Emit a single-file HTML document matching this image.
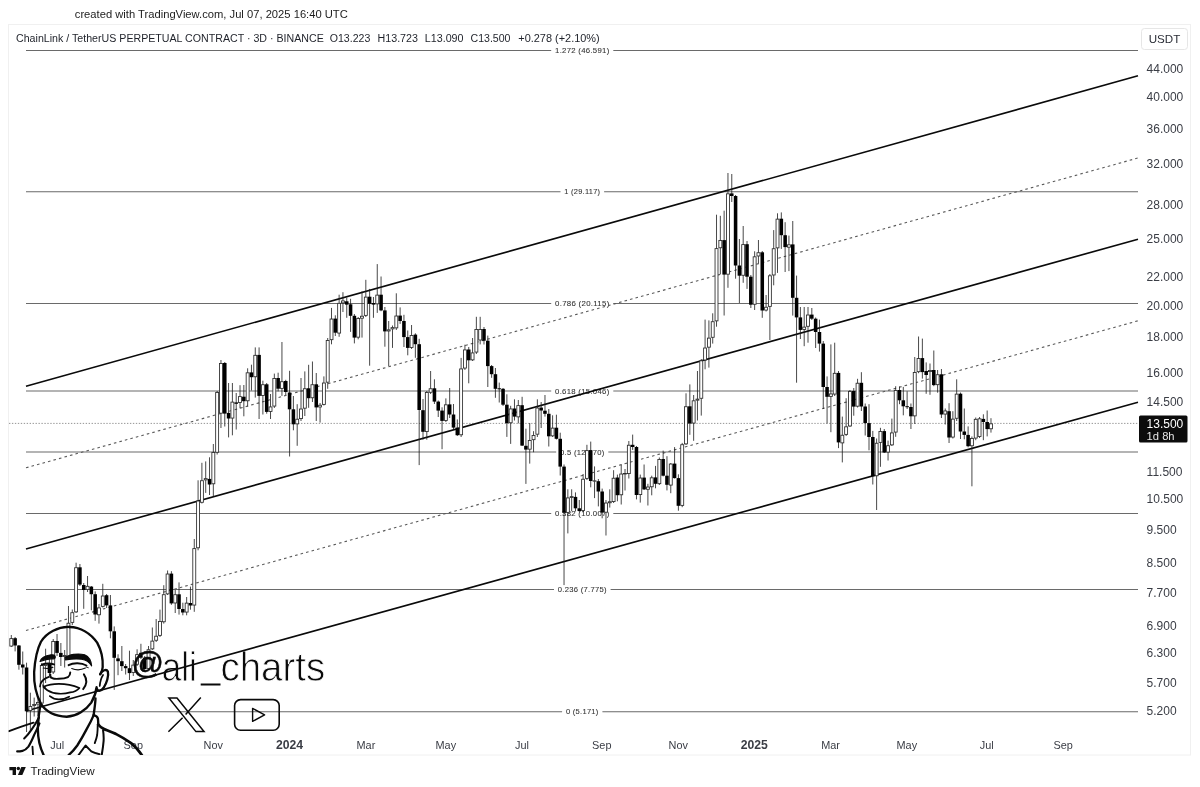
<!DOCTYPE html>
<html><head><meta charset="utf-8"><title>LINKUSDT.P chart</title>
<style>
html,body{margin:0;padding:0;background:#fff;}
body{width:1200px;height:787px;position:relative;overflow:hidden;font-family:"Liberation Sans",sans-serif;}
svg{position:absolute;left:0;top:0;}
svg text{font-family:"Liberation Sans",sans-serif;}
</style></head><body>
<svg width="1200" height="787" viewBox="0 0 1200 787">
<defs>
<clipPath id="fr"><rect x="8.5" y="24.5" width="1182" height="730.5"/></clipPath>
<filter id="thin" x="-5%" y="-20%" width="110%" height="140%"><feMorphology operator="erode" radius="0.45"/></filter>
</defs>
<rect x="0" y="0" width="1200" height="787" fill="#fff"/>
<g opacity="0.999">
<text x="74.8" y="17.7" font-size="11.6" fill="#1c1c1c" textLength="273" lengthAdjust="spacingAndGlyphs">created with TradingView.com, Jul 07, 2025 16:40 UTC</text>
<rect x="8.5" y="24.5" width="1182" height="730.5" fill="#fff" stroke="#f0f0f0" stroke-width="1"/>
<g clip-path="url(#fr)">
<path d="M9 423.4H1138" stroke="#888" stroke-width="0.9" stroke-dasharray="1.35 1.6"/>
<path d="M26 50.5H551.2M613.3 50.5H1138" stroke="#6a6a6a" stroke-width="1.05"/>
<text x="582.3" y="53.2" text-anchor="middle" font-size="7.6" letter-spacing="0.28" fill="#333" stroke="#333" stroke-width="0.08" textLength="54.5" lengthAdjust="spacingAndGlyphs">1.272 (46.591)</text>
<path d="M26 191.7H560.5M604.1 191.7H1138" stroke="#6a6a6a" stroke-width="1.05"/>
<text x="582.3" y="194.4" text-anchor="middle" font-size="7.6" letter-spacing="0.28" fill="#333" stroke="#333" stroke-width="0.08" textLength="36" lengthAdjust="spacingAndGlyphs">1 (29.117)</text>
<path d="M26 303.4H551.2M613.3 303.4H1138" stroke="#6a6a6a" stroke-width="1.05"/>
<text x="582.3" y="306.1" text-anchor="middle" font-size="7.6" letter-spacing="0.28" fill="#333" stroke="#333" stroke-width="0.08" textLength="54.5" lengthAdjust="spacingAndGlyphs">0.786 (20.115)</text>
<path d="M26 391.0H551.2M613.3 391.0H1138" stroke="#6a6a6a" stroke-width="1.05"/>
<text x="582.3" y="393.7" text-anchor="middle" font-size="7.6" letter-spacing="0.28" fill="#333" stroke="#333" stroke-width="0.08" textLength="54.5" lengthAdjust="spacingAndGlyphs">0.618 (15.046)</text>
<path d="M26 451.9H556.2M608.3 451.9H1138" stroke="#6a6a6a" stroke-width="1.05"/>
<text x="582.3" y="454.6" text-anchor="middle" font-size="7.6" letter-spacing="0.28" fill="#333" stroke="#333" stroke-width="0.08" textLength="44.5" lengthAdjust="spacingAndGlyphs">0.5 (12.270)</text>
<path d="M26 513.4H551.2M613.3 513.4H1138" stroke="#6a6a6a" stroke-width="1.05"/>
<text x="582.3" y="516.1" text-anchor="middle" font-size="7.6" letter-spacing="0.28" fill="#333" stroke="#333" stroke-width="0.08" textLength="54.5" lengthAdjust="spacingAndGlyphs">0.382 (10.007)</text>
<path d="M26 589.4H554.0M610.6 589.4H1138" stroke="#6a6a6a" stroke-width="1.05"/>
<text x="582.3" y="592.1" text-anchor="middle" font-size="7.6" letter-spacing="0.28" fill="#333" stroke="#333" stroke-width="0.08" textLength="49" lengthAdjust="spacingAndGlyphs">0.236 (7.775)</text>
<path d="M26 711.7H562.1M602.4 711.7H1138" stroke="#6a6a6a" stroke-width="1.05"/>
<text x="582.3" y="714.4" text-anchor="middle" font-size="7.6" letter-spacing="0.28" fill="#333" stroke="#333" stroke-width="0.08" textLength="32.7" lengthAdjust="spacingAndGlyphs">0 (5.171)</text>
<path d="M26 386.2L1138 75.8" stroke="#0a0a0a" stroke-width="1.65" stroke-linecap="butt"/>
<path d="M26 549L1138 239.2" stroke="#0a0a0a" stroke-width="1.65" stroke-linecap="butt"/>
<path d="M26 711.0L1138 402.2" stroke="#0a0a0a" stroke-width="1.65" stroke-linecap="butt"/>
<path d="M26 467.8L1138 158.0" stroke="#5a5a5a" stroke-width="1.1" stroke-dasharray="2.6 3.1"/>
<path d="M26 630.5L1138 320.8" stroke="#5a5a5a" stroke-width="1.1" stroke-dasharray="2.6 3.1"/>
<g id="candles" shape-rendering="geometricPrecision">
<path d="M11.30 635.0V647.0" stroke="#1a1a1a" stroke-width="0.8"/>
<rect x="9.83" y="638.62" width="2.95" height="7.45" fill="#fff" stroke="#2a2a2a" stroke-width="0.85"/>
<path d="M15.11 637.0V651.4" stroke="#1a1a1a" stroke-width="0.8"/>
<rect x="13.34" y="638.2" width="3.55" height="7.3" fill="#000"/>
<path d="M18.92 645.0V669.7" stroke="#1a1a1a" stroke-width="0.8"/>
<rect x="17.15" y="645.5" width="3.55" height="19.3" fill="#000"/>
<path d="M22.74 651.5V674.5" stroke="#1a1a1a" stroke-width="0.8"/>
<rect x="20.96" y="664.5" width="3.55" height="3.0" fill="#000"/>
<path d="M26.55 662.7V732.0" stroke="#1a1a1a" stroke-width="0.8"/>
<rect x="24.77" y="667.5" width="3.55" height="43.8" fill="#000"/>
<path d="M30.36 692.7V730.0" stroke="#1a1a1a" stroke-width="0.8"/>
<rect x="28.89" y="706.42" width="2.95" height="4.15" fill="#fff" stroke="#2a2a2a" stroke-width="0.85"/>
<path d="M34.17 697.6V716.5" stroke="#1a1a1a" stroke-width="0.8"/>
<rect x="32.70" y="704.42" width="2.95" height="1.15" fill="#fff" stroke="#2a2a2a" stroke-width="0.85"/>
<path d="M37.98 696.0V716.0" stroke="#1a1a1a" stroke-width="0.8"/>
<rect x="36.51" y="702.42" width="2.95" height="1.65" fill="#fff" stroke="#2a2a2a" stroke-width="0.85"/>
<path d="M41.80 663.0V706.0" stroke="#1a1a1a" stroke-width="0.8"/>
<rect x="40.32" y="665.42" width="2.95" height="37.65" fill="#fff" stroke="#2a2a2a" stroke-width="0.85"/>
<path d="M45.61 648.7V683.0" stroke="#1a1a1a" stroke-width="0.8"/>
<rect x="44.13" y="663.82" width="2.95" height="1.75" fill="#fff" stroke="#2a2a2a" stroke-width="0.85"/>
<path d="M49.42 655.0V676.0" stroke="#1a1a1a" stroke-width="0.8"/>
<rect x="47.65" y="663.4" width="3.55" height="9.6" fill="#000"/>
<path d="M53.23 639.0V674.0" stroke="#1a1a1a" stroke-width="0.8"/>
<rect x="51.76" y="641.42" width="2.95" height="30.55" fill="#fff" stroke="#2a2a2a" stroke-width="0.85"/>
<path d="M57.04 634.0V656.0" stroke="#1a1a1a" stroke-width="0.8"/>
<rect x="55.27" y="641.0" width="3.55" height="11.9" fill="#000"/>
<path d="M60.86 643.0V666.0" stroke="#1a1a1a" stroke-width="0.8"/>
<rect x="59.08" y="652.9" width="3.55" height="4.1" fill="#000"/>
<path d="M64.67 650.0V667.5" stroke="#1a1a1a" stroke-width="0.8"/>
<rect x="63.19" y="655.42" width="2.95" height="1.15" fill="#fff" stroke="#2a2a2a" stroke-width="0.85"/>
<path d="M68.48 606.0V660.0" stroke="#1a1a1a" stroke-width="0.8"/>
<rect x="67.00" y="623.22" width="2.95" height="33.35" fill="#fff" stroke="#2a2a2a" stroke-width="0.85"/>
<path d="M72.29 609.5V625.0" stroke="#1a1a1a" stroke-width="0.8"/>
<rect x="70.82" y="612.72" width="2.95" height="9.65" fill="#fff" stroke="#2a2a2a" stroke-width="0.85"/>
<path d="M76.10 562.7V613.0" stroke="#1a1a1a" stroke-width="0.8"/>
<rect x="74.63" y="567.72" width="2.95" height="44.15" fill="#fff" stroke="#2a2a2a" stroke-width="0.85"/>
<path d="M79.92 564.0V586.0" stroke="#1a1a1a" stroke-width="0.8"/>
<rect x="78.14" y="567.3" width="3.55" height="17.3" fill="#000"/>
<path d="M83.73 583.0V608.8" stroke="#1a1a1a" stroke-width="0.8"/>
<rect x="81.95" y="585.0" width="3.55" height="5.0" fill="#000"/>
<path d="M87.54 576.0V592.0" stroke="#1a1a1a" stroke-width="0.8"/>
<rect x="86.06" y="586.32" width="2.95" height="3.25" fill="#fff" stroke="#2a2a2a" stroke-width="0.85"/>
<path d="M91.35 586.0V610.3" stroke="#1a1a1a" stroke-width="0.8"/>
<rect x="89.58" y="586.6" width="3.55" height="7.6" fill="#000"/>
<path d="M95.16 591.4V620.8" stroke="#1a1a1a" stroke-width="0.8"/>
<rect x="93.39" y="594.2" width="3.55" height="20.3" fill="#000"/>
<path d="M98.98 604.0V623.6" stroke="#1a1a1a" stroke-width="0.8"/>
<rect x="97.50" y="607.92" width="2.95" height="6.85" fill="#fff" stroke="#2a2a2a" stroke-width="0.85"/>
<path d="M102.79 583.8V607.5" stroke="#1a1a1a" stroke-width="0.8"/>
<rect x="101.31" y="596.02" width="2.95" height="10.35" fill="#fff" stroke="#2a2a2a" stroke-width="0.85"/>
<path d="M106.60 594.0V608.0" stroke="#1a1a1a" stroke-width="0.8"/>
<rect x="104.82" y="595.2" width="3.55" height="10.2" fill="#000"/>
<path d="M110.41 595.0V638.3" stroke="#1a1a1a" stroke-width="0.8"/>
<rect x="108.64" y="605.4" width="3.55" height="25.9" fill="#000"/>
<path d="M114.22 626.4V689.9" stroke="#1a1a1a" stroke-width="0.8"/>
<rect x="112.45" y="631.3" width="3.55" height="26.5" fill="#000"/>
<path d="M118.04 654.3V675.2" stroke="#1a1a1a" stroke-width="0.8"/>
<rect x="116.26" y="658.4" width="3.55" height="2.8" fill="#000"/>
<path d="M121.85 646.0V671.0" stroke="#1a1a1a" stroke-width="0.8"/>
<rect x="120.07" y="661.2" width="3.55" height="4.9" fill="#000"/>
<path d="M125.66 664.0V674.5" stroke="#1a1a1a" stroke-width="0.8"/>
<rect x="123.88" y="666.1" width="3.55" height="2.1" fill="#000"/>
<path d="M129.47 650.7V680.0" stroke="#1a1a1a" stroke-width="0.8"/>
<rect x="127.70" y="668.2" width="3.55" height="4.9" fill="#000"/>
<path d="M133.28 660.0V676.0" stroke="#1a1a1a" stroke-width="0.8"/>
<rect x="131.81" y="665.12" width="2.95" height="7.45" fill="#fff" stroke="#2a2a2a" stroke-width="0.85"/>
<path d="M137.10 649.3V666.0" stroke="#1a1a1a" stroke-width="0.8"/>
<rect x="135.62" y="654.62" width="2.95" height="9.65" fill="#fff" stroke="#2a2a2a" stroke-width="0.85"/>
<path d="M140.91 643.8V659.0" stroke="#1a1a1a" stroke-width="0.8"/>
<rect x="139.13" y="652.8" width="3.55" height="4.9" fill="#000"/>
<path d="M144.72 656.0V672.0" stroke="#1a1a1a" stroke-width="0.8"/>
<rect x="142.94" y="657.7" width="3.55" height="11.3" fill="#000"/>
<path d="M148.53 646.0V670.0" stroke="#1a1a1a" stroke-width="0.8"/>
<rect x="147.06" y="649.72" width="2.95" height="18.85" fill="#fff" stroke="#2a2a2a" stroke-width="0.85"/>
<path d="M152.34 627.5V650.0" stroke="#1a1a1a" stroke-width="0.8"/>
<rect x="150.87" y="641.12" width="2.95" height="7.75" fill="#fff" stroke="#2a2a2a" stroke-width="0.85"/>
<path d="M156.16 619.0V642.0" stroke="#1a1a1a" stroke-width="0.8"/>
<rect x="154.68" y="636.22" width="2.95" height="4.05" fill="#fff" stroke="#2a2a2a" stroke-width="0.85"/>
<path d="M159.97 609.6V637.0" stroke="#1a1a1a" stroke-width="0.8"/>
<rect x="158.49" y="621.42" width="2.95" height="13.95" fill="#fff" stroke="#2a2a2a" stroke-width="0.85"/>
<path d="M163.78 585.2V623.6" stroke="#1a1a1a" stroke-width="0.8"/>
<rect x="162.31" y="594.72" width="2.95" height="27.05" fill="#fff" stroke="#2a2a2a" stroke-width="0.85"/>
<path d="M167.59 570.5V595.0" stroke="#1a1a1a" stroke-width="0.8"/>
<rect x="166.12" y="574.02" width="2.95" height="19.85" fill="#fff" stroke="#2a2a2a" stroke-width="0.85"/>
<path d="M171.40 571.2V604.8" stroke="#1a1a1a" stroke-width="0.8"/>
<rect x="169.63" y="573.6" width="3.55" height="29.8" fill="#000"/>
<path d="M175.22 590.0V613.0" stroke="#1a1a1a" stroke-width="0.8"/>
<rect x="173.74" y="594.72" width="2.95" height="8.25" fill="#fff" stroke="#2a2a2a" stroke-width="0.85"/>
<path d="M179.03 582.4V614.6" stroke="#1a1a1a" stroke-width="0.8"/>
<rect x="177.25" y="594.3" width="3.55" height="14.7" fill="#000"/>
<path d="M182.84 602.7V615.3" stroke="#1a1a1a" stroke-width="0.8"/>
<rect x="181.06" y="609.0" width="3.55" height="3.5" fill="#000"/>
<path d="M186.65 597.0V615.3" stroke="#1a1a1a" stroke-width="0.8"/>
<rect x="185.18" y="603.12" width="2.95" height="8.95" fill="#fff" stroke="#2a2a2a" stroke-width="0.85"/>
<path d="M190.46 586.6V609.7" stroke="#1a1a1a" stroke-width="0.8"/>
<rect x="188.69" y="603.0" width="3.55" height="2.5" fill="#000"/>
<path d="M194.28 539.0V611.8" stroke="#1a1a1a" stroke-width="0.8"/>
<rect x="192.80" y="548.62" width="2.95" height="56.45" fill="#fff" stroke="#2a2a2a" stroke-width="0.85"/>
<path d="M198.09 480.3V550.3" stroke="#1a1a1a" stroke-width="0.8"/>
<rect x="196.61" y="501.03" width="2.95" height="46.75" fill="#fff" stroke="#2a2a2a" stroke-width="0.85"/>
<path d="M201.90 462.8V503.5" stroke="#1a1a1a" stroke-width="0.8"/>
<rect x="200.43" y="480.73" width="2.95" height="21.55" fill="#fff" stroke="#2a2a2a" stroke-width="0.85"/>
<path d="M205.71 461.4V492.9" stroke="#1a1a1a" stroke-width="0.8"/>
<rect x="204.24" y="478.62" width="2.95" height="1.25" fill="#fff" stroke="#2a2a2a" stroke-width="0.85"/>
<path d="M209.52 457.3V495.0" stroke="#1a1a1a" stroke-width="0.8"/>
<rect x="207.75" y="478.9" width="3.55" height="5.6" fill="#000"/>
<path d="M213.34 444.0V496.4" stroke="#1a1a1a" stroke-width="0.8"/>
<rect x="211.86" y="452.43" width="2.95" height="31.35" fill="#fff" stroke="#2a2a2a" stroke-width="0.85"/>
<path d="M217.15 391.0V454.5" stroke="#1a1a1a" stroke-width="0.8"/>
<rect x="215.67" y="392.43" width="2.95" height="59.85" fill="#fff" stroke="#2a2a2a" stroke-width="0.85"/>
<path d="M220.96 360.0V428.0" stroke="#1a1a1a" stroke-width="0.8"/>
<rect x="219.49" y="363.43" width="2.95" height="49.75" fill="#fff" stroke="#2a2a2a" stroke-width="0.85"/>
<path d="M224.77 362.0V426.5" stroke="#1a1a1a" stroke-width="0.8"/>
<rect x="223.00" y="363.0" width="3.55" height="50.6" fill="#000"/>
<path d="M228.58 383.0V437.4" stroke="#1a1a1a" stroke-width="0.8"/>
<rect x="226.81" y="412.9" width="3.55" height="5.6" fill="#000"/>
<path d="M232.40 383.0V435.3" stroke="#1a1a1a" stroke-width="0.8"/>
<rect x="230.92" y="402.12" width="2.95" height="15.95" fill="#fff" stroke="#2a2a2a" stroke-width="0.85"/>
<path d="M236.21 393.0V429.5" stroke="#1a1a1a" stroke-width="0.8"/>
<rect x="234.43" y="402.4" width="3.55" height="1.4" fill="#000"/>
<path d="M240.02 385.2V408.3" stroke="#1a1a1a" stroke-width="0.8"/>
<rect x="238.55" y="396.62" width="2.95" height="5.95" fill="#fff" stroke="#2a2a2a" stroke-width="0.85"/>
<path d="M243.83 385.0V416.3" stroke="#1a1a1a" stroke-width="0.8"/>
<rect x="242.06" y="396.7" width="3.55" height="4.5" fill="#000"/>
<path d="M247.64 368.3V406.5" stroke="#1a1a1a" stroke-width="0.8"/>
<rect x="246.17" y="372.82" width="2.95" height="27.95" fill="#fff" stroke="#2a2a2a" stroke-width="0.85"/>
<path d="M251.46 364.7V390.5" stroke="#1a1a1a" stroke-width="0.8"/>
<rect x="249.68" y="372.4" width="3.55" height="4.8" fill="#000"/>
<path d="M255.27 347.4V397.6" stroke="#1a1a1a" stroke-width="0.8"/>
<rect x="253.79" y="355.32" width="2.95" height="21.45" fill="#fff" stroke="#2a2a2a" stroke-width="0.85"/>
<path d="M259.08 347.4V419.0" stroke="#1a1a1a" stroke-width="0.8"/>
<rect x="257.31" y="354.9" width="3.55" height="41.0" fill="#000"/>
<path d="M262.89 380.7V414.5" stroke="#1a1a1a" stroke-width="0.8"/>
<rect x="261.42" y="384.73" width="2.95" height="10.75" fill="#fff" stroke="#2a2a2a" stroke-width="0.85"/>
<path d="M266.70 383.0V413.7" stroke="#1a1a1a" stroke-width="0.8"/>
<rect x="264.93" y="384.3" width="3.55" height="27.6" fill="#000"/>
<path d="M270.52 394.0V419.0" stroke="#1a1a1a" stroke-width="0.8"/>
<rect x="269.04" y="406.93" width="2.95" height="4.55" fill="#fff" stroke="#2a2a2a" stroke-width="0.85"/>
<path d="M274.33 373.6V408.0" stroke="#1a1a1a" stroke-width="0.8"/>
<rect x="272.85" y="378.43" width="2.95" height="27.65" fill="#fff" stroke="#2a2a2a" stroke-width="0.85"/>
<path d="M278.14 372.7V391.4" stroke="#1a1a1a" stroke-width="0.8"/>
<rect x="276.37" y="378.0" width="3.55" height="10.7" fill="#000"/>
<path d="M281.95 342.0V395.9" stroke="#1a1a1a" stroke-width="0.8"/>
<rect x="280.48" y="381.73" width="2.95" height="6.65" fill="#fff" stroke="#2a2a2a" stroke-width="0.85"/>
<path d="M285.76 379.8V395.0" stroke="#1a1a1a" stroke-width="0.8"/>
<rect x="283.99" y="381.0" width="3.55" height="11.0" fill="#000"/>
<path d="M289.58 370.8V456.5" stroke="#1a1a1a" stroke-width="0.8"/>
<rect x="287.80" y="392.5" width="3.55" height="16.8" fill="#000"/>
<path d="M293.39 396.0V430.3" stroke="#1a1a1a" stroke-width="0.8"/>
<rect x="291.61" y="409.3" width="3.55" height="15.0" fill="#000"/>
<path d="M297.20 404.2V445.8" stroke="#1a1a1a" stroke-width="0.8"/>
<rect x="295.73" y="419.23" width="2.95" height="4.65" fill="#fff" stroke="#2a2a2a" stroke-width="0.85"/>
<path d="M301.01 378.0V421.0" stroke="#1a1a1a" stroke-width="0.8"/>
<rect x="299.54" y="409.03" width="2.95" height="9.55" fill="#fff" stroke="#2a2a2a" stroke-width="0.85"/>
<path d="M304.82 371.4V416.0" stroke="#1a1a1a" stroke-width="0.8"/>
<rect x="303.35" y="388.73" width="2.95" height="19.45" fill="#fff" stroke="#2a2a2a" stroke-width="0.85"/>
<path d="M308.64 364.8V407.8" stroke="#1a1a1a" stroke-width="0.8"/>
<rect x="306.86" y="388.3" width="3.55" height="9.9" fill="#000"/>
<path d="M312.45 361.5V402.0" stroke="#1a1a1a" stroke-width="0.8"/>
<rect x="310.97" y="384.73" width="2.95" height="13.05" fill="#fff" stroke="#2a2a2a" stroke-width="0.85"/>
<path d="M316.26 373.0V421.0" stroke="#1a1a1a" stroke-width="0.8"/>
<rect x="314.49" y="384.3" width="3.55" height="23.1" fill="#000"/>
<path d="M320.07 403.0V422.6" stroke="#1a1a1a" stroke-width="0.8"/>
<rect x="318.60" y="405.23" width="2.95" height="1.75" fill="#fff" stroke="#2a2a2a" stroke-width="0.85"/>
<path d="M323.88 376.4V405.5" stroke="#1a1a1a" stroke-width="0.8"/>
<rect x="322.41" y="383.03" width="2.95" height="21.35" fill="#fff" stroke="#2a2a2a" stroke-width="0.85"/>
<path d="M327.70 338.0V388.8" stroke="#1a1a1a" stroke-width="0.8"/>
<rect x="326.22" y="340.53" width="2.95" height="41.65" fill="#fff" stroke="#2a2a2a" stroke-width="0.85"/>
<path d="M331.51 307.9V344.3" stroke="#1a1a1a" stroke-width="0.8"/>
<rect x="330.03" y="319.03" width="2.95" height="20.65" fill="#fff" stroke="#2a2a2a" stroke-width="0.85"/>
<path d="M335.32 315.3V336.0" stroke="#1a1a1a" stroke-width="0.8"/>
<rect x="333.55" y="318.6" width="3.55" height="14.1" fill="#000"/>
<path d="M339.13 294.7V336.8" stroke="#1a1a1a" stroke-width="0.8"/>
<rect x="337.66" y="303.32" width="2.95" height="29.75" fill="#fff" stroke="#2a2a2a" stroke-width="0.85"/>
<path d="M342.94 292.2V312.0" stroke="#1a1a1a" stroke-width="0.8"/>
<rect x="341.47" y="300.93" width="2.95" height="1.95" fill="#fff" stroke="#2a2a2a" stroke-width="0.85"/>
<path d="M346.76 297.6V317.8" stroke="#1a1a1a" stroke-width="0.8"/>
<rect x="344.98" y="301.3" width="3.55" height="3.3" fill="#000"/>
<path d="M350.57 298.8V331.9" stroke="#1a1a1a" stroke-width="0.8"/>
<rect x="348.79" y="304.3" width="3.55" height="11.5" fill="#000"/>
<path d="M354.38 314.0V343.4" stroke="#1a1a1a" stroke-width="0.8"/>
<rect x="352.61" y="315.8" width="3.55" height="21.8" fill="#000"/>
<path d="M358.19 317.0V339.3" stroke="#1a1a1a" stroke-width="0.8"/>
<rect x="356.72" y="318.53" width="2.95" height="18.65" fill="#fff" stroke="#2a2a2a" stroke-width="0.85"/>
<path d="M362.00 291.4V337.6" stroke="#1a1a1a" stroke-width="0.8"/>
<rect x="360.53" y="316.23" width="2.95" height="1.95" fill="#fff" stroke="#2a2a2a" stroke-width="0.85"/>
<path d="M365.82 279.8V317.0" stroke="#1a1a1a" stroke-width="0.8"/>
<rect x="364.34" y="297.12" width="2.95" height="18.25" fill="#fff" stroke="#2a2a2a" stroke-width="0.85"/>
<path d="M369.63 288.9V365.7" stroke="#1a1a1a" stroke-width="0.8"/>
<rect x="367.85" y="296.7" width="3.55" height="7.1" fill="#000"/>
<path d="M373.44 297.0V317.8" stroke="#1a1a1a" stroke-width="0.8"/>
<rect x="371.67" y="303.0" width="3.55" height="1.6" fill="#000"/>
<path d="M377.25 264.1V312.9" stroke="#1a1a1a" stroke-width="0.8"/>
<rect x="375.78" y="295.12" width="2.95" height="8.75" fill="#fff" stroke="#2a2a2a" stroke-width="0.85"/>
<path d="M381.06 276.5V311.2" stroke="#1a1a1a" stroke-width="0.8"/>
<rect x="379.29" y="294.7" width="3.55" height="15.7" fill="#000"/>
<path d="M384.88 307.0V346.7" stroke="#1a1a1a" stroke-width="0.8"/>
<rect x="383.10" y="310.4" width="3.55" height="21.0" fill="#000"/>
<path d="M388.69 321.0V366.0" stroke="#1a1a1a" stroke-width="0.8"/>
<rect x="387.21" y="329.82" width="2.95" height="1.15" fill="#fff" stroke="#2a2a2a" stroke-width="0.85"/>
<path d="M392.50 325.5V347.9" stroke="#1a1a1a" stroke-width="0.8"/>
<rect x="391.03" y="327.62" width="2.95" height="1.25" fill="#fff" stroke="#2a2a2a" stroke-width="0.85"/>
<path d="M396.31 293.3V330.0" stroke="#1a1a1a" stroke-width="0.8"/>
<rect x="394.84" y="316.03" width="2.95" height="11.85" fill="#fff" stroke="#2a2a2a" stroke-width="0.85"/>
<path d="M400.12 307.4V323.9" stroke="#1a1a1a" stroke-width="0.8"/>
<rect x="398.35" y="315.6" width="3.55" height="5.4" fill="#000"/>
<path d="M403.94 314.8V347.0" stroke="#1a1a1a" stroke-width="0.8"/>
<rect x="402.16" y="321.0" width="3.55" height="16.1" fill="#000"/>
<path d="M407.75 330.5V355.3" stroke="#1a1a1a" stroke-width="0.8"/>
<rect x="405.97" y="337.1" width="3.55" height="10.8" fill="#000"/>
<path d="M411.56 325.0V349.0" stroke="#1a1a1a" stroke-width="0.8"/>
<rect x="410.09" y="335.43" width="2.95" height="12.05" fill="#fff" stroke="#2a2a2a" stroke-width="0.85"/>
<path d="M415.37 333.3V357.8" stroke="#1a1a1a" stroke-width="0.8"/>
<rect x="413.60" y="334.6" width="3.55" height="9.6" fill="#000"/>
<path d="M419.18 338.8V465.1" stroke="#1a1a1a" stroke-width="0.8"/>
<rect x="417.41" y="344.2" width="3.55" height="65.8" fill="#000"/>
<path d="M423.00 399.0V439.7" stroke="#1a1a1a" stroke-width="0.8"/>
<rect x="421.22" y="410.2" width="3.55" height="21.6" fill="#000"/>
<path d="M426.81 391.0V439.7" stroke="#1a1a1a" stroke-width="0.8"/>
<rect x="425.33" y="392.43" width="2.95" height="39.15" fill="#fff" stroke="#2a2a2a" stroke-width="0.85"/>
<path d="M430.62 371.0V394.0" stroke="#1a1a1a" stroke-width="0.8"/>
<rect x="429.15" y="388.73" width="2.95" height="3.55" fill="#fff" stroke="#2a2a2a" stroke-width="0.85"/>
<path d="M434.43 379.3V404.0" stroke="#1a1a1a" stroke-width="0.8"/>
<rect x="432.66" y="388.3" width="3.55" height="13.3" fill="#000"/>
<path d="M438.24 400.5V417.0" stroke="#1a1a1a" stroke-width="0.8"/>
<rect x="436.47" y="401.6" width="3.55" height="9.0" fill="#000"/>
<path d="M442.06 407.3V449.2" stroke="#1a1a1a" stroke-width="0.8"/>
<rect x="440.28" y="410.6" width="3.55" height="10.3" fill="#000"/>
<path d="M445.87 398.4V422.0" stroke="#1a1a1a" stroke-width="0.8"/>
<rect x="444.39" y="404.82" width="2.95" height="15.65" fill="#fff" stroke="#2a2a2a" stroke-width="0.85"/>
<path d="M449.68 388.0V418.0" stroke="#1a1a1a" stroke-width="0.8"/>
<rect x="447.91" y="404.4" width="3.55" height="10.1" fill="#000"/>
<path d="M453.49 404.0V429.0" stroke="#1a1a1a" stroke-width="0.8"/>
<rect x="451.72" y="414.5" width="3.55" height="13.1" fill="#000"/>
<path d="M457.30 419.4V436.0" stroke="#1a1a1a" stroke-width="0.8"/>
<rect x="455.53" y="427.6" width="3.55" height="7.6" fill="#000"/>
<path d="M461.12 357.9V437.0" stroke="#1a1a1a" stroke-width="0.8"/>
<rect x="459.64" y="368.93" width="2.95" height="65.85" fill="#fff" stroke="#2a2a2a" stroke-width="0.85"/>
<path d="M464.93 344.7V370.0" stroke="#1a1a1a" stroke-width="0.8"/>
<rect x="463.45" y="349.93" width="2.95" height="18.15" fill="#fff" stroke="#2a2a2a" stroke-width="0.85"/>
<path d="M468.74 347.0V383.3" stroke="#1a1a1a" stroke-width="0.8"/>
<rect x="466.97" y="349.5" width="3.55" height="10.8" fill="#000"/>
<path d="M472.55 338.0V361.0" stroke="#1a1a1a" stroke-width="0.8"/>
<rect x="471.08" y="352.93" width="2.95" height="6.95" fill="#fff" stroke="#2a2a2a" stroke-width="0.85"/>
<path d="M476.36 316.8V354.0" stroke="#1a1a1a" stroke-width="0.8"/>
<rect x="474.89" y="329.43" width="2.95" height="22.65" fill="#fff" stroke="#2a2a2a" stroke-width="0.85"/>
<path d="M480.18 316.8V344.4" stroke="#1a1a1a" stroke-width="0.8"/>
<rect x="478.70" y="329.43" width="2.95" height="10.55" fill="#fff" stroke="#2a2a2a" stroke-width="0.85"/>
<path d="M483.99 327.0V344.5" stroke="#1a1a1a" stroke-width="0.8"/>
<rect x="482.21" y="329.0" width="3.55" height="11.7" fill="#000"/>
<path d="M487.80 335.6V387.0" stroke="#1a1a1a" stroke-width="0.8"/>
<rect x="486.03" y="340.7" width="3.55" height="25.4" fill="#000"/>
<path d="M491.61 365.0V377.8" stroke="#1a1a1a" stroke-width="0.8"/>
<rect x="489.84" y="366.1" width="3.55" height="8.1" fill="#000"/>
<path d="M495.42 368.0V397.8" stroke="#1a1a1a" stroke-width="0.8"/>
<rect x="493.65" y="374.2" width="3.55" height="14.6" fill="#000"/>
<path d="M499.24 382.6V402.5" stroke="#1a1a1a" stroke-width="0.8"/>
<rect x="497.46" y="388.3" width="3.55" height="1.0" fill="#000"/>
<path d="M503.05 388.0V406.0" stroke="#1a1a1a" stroke-width="0.8"/>
<rect x="501.27" y="388.8" width="3.55" height="15.9" fill="#000"/>
<path d="M506.86 394.3V436.9" stroke="#1a1a1a" stroke-width="0.8"/>
<rect x="505.09" y="404.7" width="3.55" height="18.5" fill="#000"/>
<path d="M510.67 405.8V443.9" stroke="#1a1a1a" stroke-width="0.8"/>
<rect x="509.20" y="408.93" width="2.95" height="13.85" fill="#fff" stroke="#2a2a2a" stroke-width="0.85"/>
<path d="M514.48 399.3V420.5" stroke="#1a1a1a" stroke-width="0.8"/>
<rect x="512.71" y="408.5" width="3.55" height="8.1" fill="#000"/>
<path d="M518.30 400.0V423.4" stroke="#1a1a1a" stroke-width="0.8"/>
<rect x="516.82" y="405.62" width="2.95" height="11.25" fill="#fff" stroke="#2a2a2a" stroke-width="0.85"/>
<path d="M522.11 396.8V446.0" stroke="#1a1a1a" stroke-width="0.8"/>
<rect x="520.33" y="405.2" width="3.55" height="40.4" fill="#000"/>
<path d="M525.92 428.7V483.9" stroke="#1a1a1a" stroke-width="0.8"/>
<rect x="524.14" y="445.8" width="3.55" height="3.8" fill="#000"/>
<path d="M529.73 423.0V463.6" stroke="#1a1a1a" stroke-width="0.8"/>
<rect x="528.26" y="440.53" width="2.95" height="8.65" fill="#fff" stroke="#2a2a2a" stroke-width="0.85"/>
<path d="M533.54 431.2V452.2" stroke="#1a1a1a" stroke-width="0.8"/>
<rect x="532.07" y="435.43" width="2.95" height="4.25" fill="#fff" stroke="#2a2a2a" stroke-width="0.85"/>
<path d="M537.36 399.3V437.0" stroke="#1a1a1a" stroke-width="0.8"/>
<rect x="535.88" y="408.03" width="2.95" height="26.15" fill="#fff" stroke="#2a2a2a" stroke-width="0.85"/>
<path d="M541.17 402.0V428.0" stroke="#1a1a1a" stroke-width="0.8"/>
<rect x="539.39" y="407.6" width="3.55" height="2.9" fill="#000"/>
<path d="M544.98 395.0V416.6" stroke="#1a1a1a" stroke-width="0.8"/>
<rect x="543.20" y="410.7" width="3.55" height="3.1" fill="#000"/>
<path d="M548.79 409.0V446.5" stroke="#1a1a1a" stroke-width="0.8"/>
<rect x="547.02" y="413.8" width="3.55" height="22.5" fill="#000"/>
<path d="M552.60 415.3V437.0" stroke="#1a1a1a" stroke-width="0.8"/>
<rect x="551.13" y="428.12" width="2.95" height="7.75" fill="#fff" stroke="#2a2a2a" stroke-width="0.85"/>
<path d="M556.42 414.7V439.5" stroke="#1a1a1a" stroke-width="0.8"/>
<rect x="554.64" y="427.7" width="3.55" height="11.1" fill="#000"/>
<path d="M560.23 432.7V475.5" stroke="#1a1a1a" stroke-width="0.8"/>
<rect x="558.45" y="438.8" width="3.55" height="27.8" fill="#000"/>
<path d="M564.04 464.5V585.1" stroke="#1a1a1a" stroke-width="0.8"/>
<rect x="562.26" y="466.6" width="3.55" height="46.2" fill="#000"/>
<path d="M567.85 489.3V533.4" stroke="#1a1a1a" stroke-width="0.8"/>
<rect x="566.38" y="497.93" width="2.95" height="14.45" fill="#fff" stroke="#2a2a2a" stroke-width="0.85"/>
<path d="M571.66 489.3V511.0" stroke="#1a1a1a" stroke-width="0.8"/>
<rect x="570.19" y="496.62" width="2.95" height="0.95" fill="#fff" stroke="#2a2a2a" stroke-width="0.85"/>
<path d="M575.48 492.4V511.5" stroke="#1a1a1a" stroke-width="0.8"/>
<rect x="573.70" y="496.9" width="3.55" height="11.4" fill="#000"/>
<path d="M579.29 500.0V512.0" stroke="#1a1a1a" stroke-width="0.8"/>
<rect x="577.51" y="508.3" width="3.55" height="2.7" fill="#000"/>
<path d="M583.10 474.0V512.0" stroke="#1a1a1a" stroke-width="0.8"/>
<rect x="581.62" y="479.23" width="2.95" height="31.35" fill="#fff" stroke="#2a2a2a" stroke-width="0.85"/>
<path d="M586.91 444.8V480.0" stroke="#1a1a1a" stroke-width="0.8"/>
<rect x="585.44" y="450.62" width="2.95" height="27.75" fill="#fff" stroke="#2a2a2a" stroke-width="0.85"/>
<path d="M590.72 441.6V487.3" stroke="#1a1a1a" stroke-width="0.8"/>
<rect x="588.95" y="450.2" width="3.55" height="30.8" fill="#000"/>
<path d="M594.54 466.4V498.1" stroke="#1a1a1a" stroke-width="0.8"/>
<rect x="593.06" y="480.82" width="2.95" height="0.35" fill="#fff" stroke="#2a2a2a" stroke-width="0.85"/>
<path d="M598.35 479.0V506.4" stroke="#1a1a1a" stroke-width="0.8"/>
<rect x="596.57" y="481.2" width="3.55" height="10.3" fill="#000"/>
<path d="M602.16 488.6V518.3" stroke="#1a1a1a" stroke-width="0.8"/>
<rect x="600.38" y="491.5" width="3.55" height="21.1" fill="#000"/>
<path d="M605.97 500.0V535.5" stroke="#1a1a1a" stroke-width="0.8"/>
<rect x="604.50" y="503.03" width="2.95" height="9.15" fill="#fff" stroke="#2a2a2a" stroke-width="0.85"/>
<path d="M609.78 489.3V507.6" stroke="#1a1a1a" stroke-width="0.8"/>
<rect x="608.31" y="501.73" width="2.95" height="1.05" fill="#fff" stroke="#2a2a2a" stroke-width="0.85"/>
<path d="M613.60 470.2V503.0" stroke="#1a1a1a" stroke-width="0.8"/>
<rect x="612.12" y="478.23" width="2.95" height="23.35" fill="#fff" stroke="#2a2a2a" stroke-width="0.85"/>
<path d="M617.41 474.6V501.3" stroke="#1a1a1a" stroke-width="0.8"/>
<rect x="615.63" y="477.5" width="3.55" height="17.7" fill="#000"/>
<path d="M621.22 464.5V504.5" stroke="#1a1a1a" stroke-width="0.8"/>
<rect x="619.74" y="474.03" width="2.95" height="20.75" fill="#fff" stroke="#2a2a2a" stroke-width="0.85"/>
<path d="M625.03 469.0V490.5" stroke="#1a1a1a" stroke-width="0.8"/>
<rect x="623.56" y="473.43" width="2.95" height="0.55" fill="#fff" stroke="#2a2a2a" stroke-width="0.85"/>
<path d="M628.84 441.0V478.5" stroke="#1a1a1a" stroke-width="0.8"/>
<rect x="627.37" y="445.23" width="2.95" height="28.35" fill="#fff" stroke="#2a2a2a" stroke-width="0.85"/>
<path d="M632.66 434.6V449.9" stroke="#1a1a1a" stroke-width="0.8"/>
<rect x="630.88" y="444.8" width="3.55" height="2.2" fill="#000"/>
<path d="M636.47 446.0V499.4" stroke="#1a1a1a" stroke-width="0.8"/>
<rect x="634.69" y="447.0" width="3.55" height="48.0" fill="#000"/>
<path d="M640.28 474.6V502.6" stroke="#1a1a1a" stroke-width="0.8"/>
<rect x="638.80" y="478.03" width="2.95" height="16.55" fill="#fff" stroke="#2a2a2a" stroke-width="0.85"/>
<path d="M644.09 464.5V490.0" stroke="#1a1a1a" stroke-width="0.8"/>
<rect x="642.32" y="477.6" width="3.55" height="11.8" fill="#000"/>
<path d="M647.90 483.8V505.5" stroke="#1a1a1a" stroke-width="0.8"/>
<rect x="646.43" y="487.03" width="2.95" height="2.25" fill="#fff" stroke="#2a2a2a" stroke-width="0.85"/>
<path d="M651.72 475.7V495.3" stroke="#1a1a1a" stroke-width="0.8"/>
<rect x="650.24" y="477.82" width="2.95" height="8.95" fill="#fff" stroke="#2a2a2a" stroke-width="0.85"/>
<path d="M655.53 465.9V488.3" stroke="#1a1a1a" stroke-width="0.8"/>
<rect x="653.75" y="477.4" width="3.55" height="6.4" fill="#000"/>
<path d="M659.34 457.5V485.0" stroke="#1a1a1a" stroke-width="0.8"/>
<rect x="657.86" y="459.43" width="2.95" height="24.25" fill="#fff" stroke="#2a2a2a" stroke-width="0.85"/>
<path d="M663.15 450.6V476.4" stroke="#1a1a1a" stroke-width="0.8"/>
<rect x="661.38" y="459.0" width="3.55" height="16.7" fill="#000"/>
<path d="M666.96 456.2V490.4" stroke="#1a1a1a" stroke-width="0.8"/>
<rect x="665.19" y="475.7" width="3.55" height="9.1" fill="#000"/>
<path d="M670.78 463.0V493.2" stroke="#1a1a1a" stroke-width="0.8"/>
<rect x="669.30" y="464.03" width="2.95" height="21.05" fill="#fff" stroke="#2a2a2a" stroke-width="0.85"/>
<path d="M674.59 447.1V478.5" stroke="#1a1a1a" stroke-width="0.8"/>
<rect x="672.81" y="463.6" width="3.55" height="14.5" fill="#000"/>
<path d="M678.40 474.3V510.7" stroke="#1a1a1a" stroke-width="0.8"/>
<rect x="676.62" y="478.1" width="3.55" height="27.7" fill="#000"/>
<path d="M682.21 442.9V507.2" stroke="#1a1a1a" stroke-width="0.8"/>
<rect x="680.74" y="444.73" width="2.95" height="60.65" fill="#fff" stroke="#2a2a2a" stroke-width="0.85"/>
<path d="M686.02 393.3V445.0" stroke="#1a1a1a" stroke-width="0.8"/>
<rect x="684.55" y="406.73" width="2.95" height="37.15" fill="#fff" stroke="#2a2a2a" stroke-width="0.85"/>
<path d="M689.84 384.4V434.8" stroke="#1a1a1a" stroke-width="0.8"/>
<rect x="688.06" y="406.3" width="3.55" height="17.2" fill="#000"/>
<path d="M693.65 395.0V440.8" stroke="#1a1a1a" stroke-width="0.8"/>
<rect x="692.17" y="400.82" width="2.95" height="22.25" fill="#fff" stroke="#2a2a2a" stroke-width="0.85"/>
<path d="M697.46 371.0V420.5" stroke="#1a1a1a" stroke-width="0.8"/>
<rect x="695.98" y="399.12" width="2.95" height="1.05" fill="#fff" stroke="#2a2a2a" stroke-width="0.85"/>
<path d="M701.27 359.0V415.6" stroke="#1a1a1a" stroke-width="0.8"/>
<rect x="699.80" y="360.82" width="2.95" height="37.45" fill="#fff" stroke="#2a2a2a" stroke-width="0.85"/>
<path d="M705.08 319.6V369.3" stroke="#1a1a1a" stroke-width="0.8"/>
<rect x="703.61" y="348.03" width="2.95" height="11.95" fill="#fff" stroke="#2a2a2a" stroke-width="0.85"/>
<path d="M708.90 320.4V367.6" stroke="#1a1a1a" stroke-width="0.8"/>
<rect x="707.42" y="338.12" width="2.95" height="9.05" fill="#fff" stroke="#2a2a2a" stroke-width="0.85"/>
<path d="M712.71 313.3V343.6" stroke="#1a1a1a" stroke-width="0.8"/>
<rect x="711.23" y="321.73" width="2.95" height="15.55" fill="#fff" stroke="#2a2a2a" stroke-width="0.85"/>
<path d="M716.52 214.7V326.7" stroke="#1a1a1a" stroke-width="0.8"/>
<rect x="715.04" y="248.62" width="2.95" height="72.25" fill="#fff" stroke="#2a2a2a" stroke-width="0.85"/>
<path d="M720.33 215.8V274.0" stroke="#1a1a1a" stroke-width="0.8"/>
<rect x="718.86" y="240.53" width="2.95" height="7.25" fill="#fff" stroke="#2a2a2a" stroke-width="0.85"/>
<path d="M724.14 210.7V315.5" stroke="#1a1a1a" stroke-width="0.8"/>
<rect x="722.37" y="240.1" width="3.55" height="34.5" fill="#000"/>
<path d="M727.96 173.0V287.8" stroke="#1a1a1a" stroke-width="0.8"/>
<rect x="726.48" y="193.83" width="2.95" height="80.35" fill="#fff" stroke="#2a2a2a" stroke-width="0.85"/>
<path d="M731.77 174.0V202.0" stroke="#1a1a1a" stroke-width="0.8"/>
<rect x="729.99" y="193.4" width="3.55" height="2.6" fill="#000"/>
<path d="M735.58 195.0V278.7" stroke="#1a1a1a" stroke-width="0.8"/>
<rect x="733.80" y="196.0" width="3.55" height="69.5" fill="#000"/>
<path d="M739.39 239.0V303.0" stroke="#1a1a1a" stroke-width="0.8"/>
<rect x="737.62" y="265.5" width="3.55" height="10.2" fill="#000"/>
<path d="M743.20 226.0V282.8" stroke="#1a1a1a" stroke-width="0.8"/>
<rect x="741.73" y="244.62" width="2.95" height="30.65" fill="#fff" stroke="#2a2a2a" stroke-width="0.85"/>
<path d="M747.02 241.0V288.9" stroke="#1a1a1a" stroke-width="0.8"/>
<rect x="745.24" y="244.2" width="3.55" height="32.5" fill="#000"/>
<path d="M750.83 275.0V308.0" stroke="#1a1a1a" stroke-width="0.8"/>
<rect x="749.05" y="276.7" width="3.55" height="28.0" fill="#000"/>
<path d="M754.64 251.3V310.0" stroke="#1a1a1a" stroke-width="0.8"/>
<rect x="753.16" y="256.82" width="2.95" height="47.45" fill="#fff" stroke="#2a2a2a" stroke-width="0.85"/>
<path d="M758.45 240.0V263.5" stroke="#1a1a1a" stroke-width="0.8"/>
<rect x="756.98" y="252.73" width="2.95" height="3.25" fill="#fff" stroke="#2a2a2a" stroke-width="0.85"/>
<path d="M762.26 251.0V317.8" stroke="#1a1a1a" stroke-width="0.8"/>
<rect x="760.49" y="252.3" width="3.55" height="58.2" fill="#000"/>
<path d="M766.08 295.0V311.5" stroke="#1a1a1a" stroke-width="0.8"/>
<rect x="764.60" y="307.23" width="2.95" height="2.85" fill="#fff" stroke="#2a2a2a" stroke-width="0.85"/>
<path d="M769.89 274.0V340.0" stroke="#1a1a1a" stroke-width="0.8"/>
<rect x="768.41" y="275.82" width="2.95" height="30.55" fill="#fff" stroke="#2a2a2a" stroke-width="0.85"/>
<path d="M773.70 230.1V285.3" stroke="#1a1a1a" stroke-width="0.8"/>
<rect x="772.22" y="248.73" width="2.95" height="26.25" fill="#fff" stroke="#2a2a2a" stroke-width="0.85"/>
<path d="M777.51 213.3V272.9" stroke="#1a1a1a" stroke-width="0.8"/>
<rect x="776.04" y="219.12" width="2.95" height="28.75" fill="#fff" stroke="#2a2a2a" stroke-width="0.85"/>
<path d="M781.32 212.4V248.9" stroke="#1a1a1a" stroke-width="0.8"/>
<rect x="779.55" y="218.7" width="3.55" height="16.5" fill="#000"/>
<path d="M785.14 222.2V272.0" stroke="#1a1a1a" stroke-width="0.8"/>
<rect x="783.36" y="235.2" width="3.55" height="11.9" fill="#000"/>
<path d="M788.95 235.6V271.1" stroke="#1a1a1a" stroke-width="0.8"/>
<rect x="787.47" y="244.83" width="2.95" height="2.35" fill="#fff" stroke="#2a2a2a" stroke-width="0.85"/>
<path d="M792.76 221.0V315.6" stroke="#1a1a1a" stroke-width="0.8"/>
<rect x="790.98" y="244.4" width="3.55" height="53.4" fill="#000"/>
<path d="M796.57 275.6V382.7" stroke="#1a1a1a" stroke-width="0.8"/>
<rect x="794.80" y="297.8" width="3.55" height="19.6" fill="#000"/>
<path d="M800.38 307.0V339.0" stroke="#1a1a1a" stroke-width="0.8"/>
<rect x="798.61" y="317.4" width="3.55" height="12.5" fill="#000"/>
<path d="M804.20 307.0V346.2" stroke="#1a1a1a" stroke-width="0.8"/>
<rect x="802.72" y="327.12" width="2.95" height="2.35" fill="#fff" stroke="#2a2a2a" stroke-width="0.85"/>
<path d="M808.01 307.0V342.7" stroke="#1a1a1a" stroke-width="0.8"/>
<rect x="806.53" y="315.03" width="2.95" height="11.25" fill="#fff" stroke="#2a2a2a" stroke-width="0.85"/>
<path d="M811.82 308.0V320.0" stroke="#1a1a1a" stroke-width="0.8"/>
<rect x="810.04" y="314.6" width="3.55" height="4.1" fill="#000"/>
<path d="M815.63 317.5V348.0" stroke="#1a1a1a" stroke-width="0.8"/>
<rect x="813.86" y="318.7" width="3.55" height="13.3" fill="#000"/>
<path d="M819.44 319.6V351.6" stroke="#1a1a1a" stroke-width="0.8"/>
<rect x="817.67" y="332.0" width="3.55" height="11.6" fill="#000"/>
<path d="M823.26 341.0V409.0" stroke="#1a1a1a" stroke-width="0.8"/>
<rect x="821.48" y="343.6" width="3.55" height="43.4" fill="#000"/>
<path d="M827.07 376.4V423.5" stroke="#1a1a1a" stroke-width="0.8"/>
<rect x="825.29" y="387.0" width="3.55" height="9.8" fill="#000"/>
<path d="M830.88 344.4V432.2" stroke="#1a1a1a" stroke-width="0.8"/>
<rect x="829.40" y="393.93" width="2.95" height="2.45" fill="#fff" stroke="#2a2a2a" stroke-width="0.85"/>
<path d="M834.69 342.7V396.0" stroke="#1a1a1a" stroke-width="0.8"/>
<rect x="833.22" y="373.32" width="2.95" height="20.75" fill="#fff" stroke="#2a2a2a" stroke-width="0.85"/>
<path d="M838.50 371.0V448.1" stroke="#1a1a1a" stroke-width="0.8"/>
<rect x="836.73" y="372.9" width="3.55" height="69.5" fill="#000"/>
<path d="M842.32 416.6V462.4" stroke="#1a1a1a" stroke-width="0.8"/>
<rect x="840.84" y="435.23" width="2.95" height="7.65" fill="#fff" stroke="#2a2a2a" stroke-width="0.85"/>
<path d="M846.13 398.2V436.0" stroke="#1a1a1a" stroke-width="0.8"/>
<rect x="844.65" y="426.82" width="2.95" height="7.55" fill="#fff" stroke="#2a2a2a" stroke-width="0.85"/>
<path d="M849.94 390.0V427.0" stroke="#1a1a1a" stroke-width="0.8"/>
<rect x="848.46" y="391.43" width="2.95" height="34.55" fill="#fff" stroke="#2a2a2a" stroke-width="0.85"/>
<path d="M853.75 388.0V415.7" stroke="#1a1a1a" stroke-width="0.8"/>
<rect x="851.98" y="391.0" width="3.55" height="15.6" fill="#000"/>
<path d="M857.56 378.8V407.5" stroke="#1a1a1a" stroke-width="0.8"/>
<rect x="856.09" y="383.23" width="2.95" height="22.95" fill="#fff" stroke="#2a2a2a" stroke-width="0.85"/>
<path d="M861.38 372.2V411.0" stroke="#1a1a1a" stroke-width="0.8"/>
<rect x="859.60" y="382.8" width="3.55" height="23.7" fill="#000"/>
<path d="M865.19 403.5V435.5" stroke="#1a1a1a" stroke-width="0.8"/>
<rect x="863.41" y="406.5" width="3.55" height="16.6" fill="#000"/>
<path d="M869.00 404.2V450.3" stroke="#1a1a1a" stroke-width="0.8"/>
<rect x="867.22" y="423.1" width="3.55" height="13.9" fill="#000"/>
<path d="M872.81 430.9V484.5" stroke="#1a1a1a" stroke-width="0.8"/>
<rect x="871.04" y="437.0" width="3.55" height="39.2" fill="#000"/>
<path d="M876.62 438.5V510.0" stroke="#1a1a1a" stroke-width="0.8"/>
<rect x="875.15" y="443.23" width="2.95" height="32.55" fill="#fff" stroke="#2a2a2a" stroke-width="0.85"/>
<path d="M880.44 427.8V466.8" stroke="#1a1a1a" stroke-width="0.8"/>
<rect x="878.96" y="431.53" width="2.95" height="10.85" fill="#fff" stroke="#2a2a2a" stroke-width="0.85"/>
<path d="M884.25 429.0V453.0" stroke="#1a1a1a" stroke-width="0.8"/>
<rect x="882.47" y="431.1" width="3.55" height="21.4" fill="#000"/>
<path d="M888.06 440.6V460.5" stroke="#1a1a1a" stroke-width="0.8"/>
<rect x="886.58" y="445.73" width="2.95" height="6.35" fill="#fff" stroke="#2a2a2a" stroke-width="0.85"/>
<path d="M891.87 418.6V446.0" stroke="#1a1a1a" stroke-width="0.8"/>
<rect x="890.40" y="432.93" width="2.95" height="11.95" fill="#fff" stroke="#2a2a2a" stroke-width="0.85"/>
<path d="M895.68 386.2V436.8" stroke="#1a1a1a" stroke-width="0.8"/>
<rect x="894.21" y="390.43" width="2.95" height="41.65" fill="#fff" stroke="#2a2a2a" stroke-width="0.85"/>
<path d="M899.50 386.5V404.2" stroke="#1a1a1a" stroke-width="0.8"/>
<rect x="897.72" y="390.0" width="3.55" height="10.3" fill="#000"/>
<path d="M903.31 386.9V415.3" stroke="#1a1a1a" stroke-width="0.8"/>
<rect x="901.53" y="400.3" width="3.55" height="6.0" fill="#000"/>
<path d="M907.12 391.3V409.0" stroke="#1a1a1a" stroke-width="0.8"/>
<rect x="905.34" y="406.2" width="3.55" height="1.0" fill="#000"/>
<path d="M910.93 403.5V429.0" stroke="#1a1a1a" stroke-width="0.8"/>
<rect x="909.16" y="407.0" width="3.55" height="9.3" fill="#000"/>
<path d="M914.74 357.0V424.0" stroke="#1a1a1a" stroke-width="0.8"/>
<rect x="913.27" y="372.53" width="2.95" height="43.35" fill="#fff" stroke="#2a2a2a" stroke-width="0.85"/>
<path d="M918.56 336.5V373.2" stroke="#1a1a1a" stroke-width="0.8"/>
<rect x="917.08" y="358.53" width="2.95" height="13.15" fill="#fff" stroke="#2a2a2a" stroke-width="0.85"/>
<path d="M922.37 338.6V378.6" stroke="#1a1a1a" stroke-width="0.8"/>
<rect x="920.59" y="358.1" width="3.55" height="14.0" fill="#000"/>
<path d="M926.18 362.4V393.8" stroke="#1a1a1a" stroke-width="0.8"/>
<rect x="924.40" y="371.0" width="3.55" height="4.0" fill="#000"/>
<path d="M929.99 363.5V394.8" stroke="#1a1a1a" stroke-width="0.8"/>
<rect x="928.52" y="370.43" width="2.95" height="1.15" fill="#fff" stroke="#2a2a2a" stroke-width="0.85"/>
<path d="M933.80 350.5V386.2" stroke="#1a1a1a" stroke-width="0.8"/>
<rect x="932.03" y="370.0" width="3.55" height="15.1" fill="#000"/>
<path d="M937.62 370.0V392.7" stroke="#1a1a1a" stroke-width="0.8"/>
<rect x="936.14" y="374.73" width="2.95" height="9.95" fill="#fff" stroke="#2a2a2a" stroke-width="0.85"/>
<path d="M941.43 369.0V418.0" stroke="#1a1a1a" stroke-width="0.8"/>
<rect x="939.65" y="374.3" width="3.55" height="40.2" fill="#000"/>
<path d="M945.24 408.5V424.5" stroke="#1a1a1a" stroke-width="0.8"/>
<rect x="943.76" y="410.93" width="2.95" height="3.15" fill="#fff" stroke="#2a2a2a" stroke-width="0.85"/>
<path d="M949.05 403.2V443.0" stroke="#1a1a1a" stroke-width="0.8"/>
<rect x="947.28" y="411.2" width="3.55" height="26.3" fill="#000"/>
<path d="M952.86 411.2V438.5" stroke="#1a1a1a" stroke-width="0.8"/>
<rect x="951.39" y="419.12" width="2.95" height="17.95" fill="#fff" stroke="#2a2a2a" stroke-width="0.85"/>
<path d="M956.68 379.3V421.0" stroke="#1a1a1a" stroke-width="0.8"/>
<rect x="955.20" y="394.12" width="2.95" height="24.15" fill="#fff" stroke="#2a2a2a" stroke-width="0.85"/>
<path d="M960.49 392.5V439.0" stroke="#1a1a1a" stroke-width="0.8"/>
<rect x="958.71" y="393.7" width="3.55" height="37.8" fill="#000"/>
<path d="M964.30 408.5V439.3" stroke="#1a1a1a" stroke-width="0.8"/>
<rect x="962.52" y="431.5" width="3.55" height="3.4" fill="#000"/>
<path d="M968.11 426.4V447.3" stroke="#1a1a1a" stroke-width="0.8"/>
<rect x="966.34" y="434.9" width="3.55" height="11.3" fill="#000"/>
<path d="M971.92 436.5V486.3" stroke="#1a1a1a" stroke-width="0.8"/>
<rect x="970.45" y="438.43" width="2.95" height="7.35" fill="#fff" stroke="#2a2a2a" stroke-width="0.85"/>
<path d="M975.74 417.5V440.2" stroke="#1a1a1a" stroke-width="0.8"/>
<rect x="974.26" y="419.32" width="2.95" height="18.75" fill="#fff" stroke="#2a2a2a" stroke-width="0.85"/>
<path d="M979.55 417.0V438.0" stroke="#1a1a1a" stroke-width="0.8"/>
<rect x="978.07" y="418.82" width="2.95" height="17.75" fill="#fff" stroke="#2a2a2a" stroke-width="0.85"/>
<path d="M983.36 414.3V440.2" stroke="#1a1a1a" stroke-width="0.8"/>
<rect x="981.58" y="418.9" width="3.55" height="3.1" fill="#000"/>
<path d="M987.17 410.5V436.4" stroke="#1a1a1a" stroke-width="0.8"/>
<rect x="985.40" y="422.0" width="3.55" height="7.1" fill="#000"/>
<path d="M990.98 418.2V432.6" stroke="#1a1a1a" stroke-width="0.8"/>
<rect x="989.51" y="423.82" width="2.95" height="4.95" fill="#fff" stroke="#2a2a2a" stroke-width="0.85"/>
</g>
<text x="57.3" y="749.0" text-anchor="middle" font-size="10.9" fill="#3a3d45">Jul</text>
<text x="133.3" y="749.0" text-anchor="middle" font-size="10.9" fill="#3a3d45">Sep</text>
<text x="213.3" y="749.0" text-anchor="middle" font-size="10.9" fill="#3a3d45">Nov</text>
<text x="289.6" y="749.0" text-anchor="middle" font-weight="bold" font-size="12.2" fill="#3a3d45">2024</text>
<text x="365.9" y="749.0" text-anchor="middle" font-size="10.9" fill="#3a3d45">Mar</text>
<text x="445.8" y="749.0" text-anchor="middle" font-size="10.9" fill="#3a3d45">May</text>
<text x="522" y="749.0" text-anchor="middle" font-size="10.9" fill="#3a3d45">Jul</text>
<text x="601.8" y="749.0" text-anchor="middle" font-size="10.9" fill="#3a3d45">Sep</text>
<text x="678.3" y="749.0" text-anchor="middle" font-size="10.9" fill="#3a3d45">Nov</text>
<text x="754.3" y="749.0" text-anchor="middle" font-weight="bold" font-size="12.2" fill="#3a3d45">2025</text>
<text x="830.6" y="749.0" text-anchor="middle" font-size="10.9" fill="#3a3d45">Mar</text>
<text x="906.8" y="749.0" text-anchor="middle" font-size="10.9" fill="#3a3d45">May</text>
<text x="986.8" y="749.0" text-anchor="middle" font-size="10.9" fill="#3a3d45">Jul</text>
<text x="1063.2" y="749.0" text-anchor="middle" font-size="10.9" fill="#3a3d45">Sep</text>
<g id="wm">
<g transform="translate(5,615) scale(0.18433)" fill="none" stroke="#0a0a0a" stroke-width="12.7" stroke-linecap="round" stroke-linejoin="round">
<!-- head outline -->
<path d="M350 65C290 62 225 95 195 145C172 190 162 250 158 310C156 370 168 430 195 482C225 528 280 550 335 552C390 548 440 515 468 475C484 448 494 418 497 392"/>
<path d="M350 65C410 66 465 100 500 150C522 190 532 240 530 282C529 298 524 310 518 318"/>
<!-- ear -->
<path d="M516 322C528 300 550 290 558 306C564 330 552 370 535 395C522 412 505 418 498 400"/>
<path d="M532 325C522 340 516 362 514 385" stroke-width="9.3"/>
<!-- brows -->
<path d="M190 252C196 232 215 222 250 216C262 214 272 218 273 228C273 238 262 240 250 238C225 238 205 246 190 252Z" fill="#0a0a0a" stroke-width="5.9"/>
<path d="M326 232C345 215 395 205 432 216C455 226 468 250 470 276C458 256 440 244 415 240C385 236 350 240 328 244Z" fill="#0a0a0a" stroke-width="5.9"/>
<!-- eyes -->
<path d="M200 270C220 262 245 262 266 268" stroke-width="10.5"/>
<path d="M208 288C225 292 245 290 260 284" stroke-width="5.9"/>
<path d="M345 272C370 258 415 258 442 274" stroke-width="10.5"/>
<path d="M362 290C385 300 415 298 436 288" stroke-width="5.9"/>
<path d="M440 282L452 286" stroke-width="4.8"/>
<!-- nose -->
<path d="M246 322C244 332 247 340 256 342C268 348 280 347 292 346C310 346 328 344 342 337C350 330 354 322 354 312" stroke-width="10.5"/>
<!-- cheek lines -->
<path d="M190 388C192 362 210 345 238 336" stroke-width="9.3"/>
<path d="M428 322C444 345 446 375 424 402" stroke-width="10.5"/>
<!-- mouth -->
<path d="M208 390C235 378 265 374 292 374C330 374 370 382 404 396C390 412 372 418 354 420C335 426 315 428 292 427C268 426 245 418 230 408C222 402 214 396 208 390Z" fill="#fff" stroke-width="9.3"/>
<path d="M243 440C258 452 275 458 292 458C312 458 332 452 348 443" stroke-width="9.3"/>
<path d="M205 380C208 388 212 392 218 394" stroke-width="5.9"/>
<!-- neck -->
<path d="M192 486C186 520 181 560 179 600C176 650 185 710 212 765"/>
<path d="M491 452C490 485 484 515 481 543"/>
<path d="M481 543C492 546 502 550 504 562C506 575 506 585 506 594"/>
<!-- left shoulder/collar -->
<path d="M22 630C65 614 110 598 155 584" stroke-width="10.5"/>
<path d="M184 556C172 580 160 600 146 619C133 638 120 655 104 670" stroke-width="11"/>
<path d="M187 588C178 612 168 632 158 651C148 675 138 697 127 714C116 728 105 735 95 737C86 739 76 740 66 740" stroke-width="11.6"/>
<path d="M149 714L152 759" stroke-width="9.9"/>
<!-- right collar/shoulder -->
<path d="M481 543C470 570 457 595 443 619C427 650 410 680 392 708C378 728 362 745 345 760"/>
<path d="M506 594C515 606 526 614 538 619C560 628 580 636 601 645C630 660 658 677 684 695C706 712 725 735 742 760" stroke-width="15"/>
<path d="M503 594C503 615 502 633 500 651C497 668 492 682 487 695" stroke-width="9.9"/>
<path d="M399 760L437 708L468 740C482 748 497 752 513 755" stroke-width="10.5"/>
<path d="M532 626C535 645 536 665 535 683C533 710 529 735 525 758" stroke-width="11"/>
</g>
<!-- handle text -->
<mask id="tm" maskUnits="userSpaceOnUse" x="120" y="640" width="220" height="60">
<rect x="120" y="640" width="220" height="60" fill="#000"/>
<g fill="#fff" stroke="#000" stroke-width="0.95" stroke-linejoin="round">
<text x="131.4" y="673.6" font-size="31" textLength="32.5" lengthAdjust="spacingAndGlyphs" stroke="#fff" stroke-width="0.35">@</text>
<text x="161.8" y="680.8" font-size="40" textLength="35" lengthAdjust="spacingAndGlyphs">ali</text>
<text x="220.6" y="680.8" font-size="40" textLength="104.5" lengthAdjust="spacingAndGlyphs">charts</text>
<rect x="200.7" y="683.5" width="19.8" height="2" stroke="none"/>
</g>
</mask>
<rect x="120" y="640" width="220" height="60" fill="#0a0a0a" mask="url(#tm)"/>
<!-- X logo -->
<g fill="none" stroke="#0a0a0a" stroke-linejoin="miter">
<path d="M168.9 698L177 698L204 731.6L195.9 731.6Z" stroke-width="1.5"/>
<path d="M200.8 697.6L185.6 714.4M182.6 717.8L168.4 731.8" stroke-width="1.5"/>
</g>
<!-- YouTube -->
<rect x="234.6" y="699.6" width="44.6" height="30.6" rx="6" ry="6" fill="none" stroke="#0a0a0a" stroke-width="1.6"/>
<path d="M252.6 708.4L252.6 721.4L264.6 714.9Z" fill="none" stroke="#0a0a0a" stroke-width="1.4" stroke-linejoin="round"/>
</g>

</g>
<!-- legend -->
<g font-size="11.7" fill="#1e2129">
<text x="16" y="42.2" textLength="307.8" lengthAdjust="spacingAndGlyphs">ChainLink / TetherUS PERPETUAL CONTRACT · 3D · BINANCE</text>
<text x="329.7" y="42.2" textLength="40.6" lengthAdjust="spacingAndGlyphs">O13.223</text>
<text x="377.5" y="42.2" textLength="40.5" lengthAdjust="spacingAndGlyphs">H13.723</text>
<text x="424.8" y="42.2" textLength="38.7" lengthAdjust="spacingAndGlyphs">L13.090</text>
<text x="470.5" y="42.2" textLength="40" lengthAdjust="spacingAndGlyphs">C13.500</text>
<text x="518.3" y="42.2" textLength="81.4" lengthAdjust="spacingAndGlyphs">+0.278 (+2.10%)</text>
</g>
<!-- USDT box -->
<rect x="1141.5" y="28.5" width="46" height="21" rx="3" fill="#fff" stroke="#e6e6e6"/>
<text x="1164.5" y="43" text-anchor="middle" font-size="11.6" fill="#2a2d36">USDT</text>
<text x="1146.6" y="72.6" font-size="12" fill="#3a3d45">44.000</text>
<text x="1146.6" y="101.3" font-size="12" fill="#3a3d45">40.000</text>
<text x="1146.6" y="132.9" font-size="12" fill="#3a3d45">36.000</text>
<text x="1146.6" y="168.3" font-size="12" fill="#3a3d45">32.000</text>
<text x="1146.6" y="208.5" font-size="12" fill="#3a3d45">28.000</text>
<text x="1146.6" y="242.6" font-size="12" fill="#3a3d45">25.000</text>
<text x="1146.6" y="281.0" font-size="12" fill="#3a3d45">22.000</text>
<text x="1146.6" y="309.7" font-size="12" fill="#3a3d45">20.000</text>
<text x="1146.6" y="341.3" font-size="12" fill="#3a3d45">18.000</text>
<text x="1146.6" y="376.7" font-size="12" fill="#3a3d45">16.000</text>
<text x="1146.6" y="406.3" font-size="12" fill="#3a3d45">14.500</text>
<text x="1146.6" y="476.0" font-size="12" fill="#3a3d45">11.500</text>
<text x="1146.6" y="503.4" font-size="12" fill="#3a3d45">10.500</text>
<text x="1146.6" y="533.5" font-size="12" fill="#3a3d45">9.500</text>
<text x="1146.6" y="566.9" font-size="12" fill="#3a3d45">8.500</text>
<text x="1146.6" y="596.6" font-size="12" fill="#3a3d45">7.700</text>
<text x="1146.6" y="629.6" font-size="12" fill="#3a3d45">6.900</text>
<text x="1146.6" y="657.0" font-size="12" fill="#3a3d45">6.300</text>
<text x="1146.6" y="687.1" font-size="12" fill="#3a3d45">5.700</text>
<text x="1146.6" y="714.7" font-size="12" fill="#3a3d45">5.200</text>
<!-- price label -->
<rect x="1139" y="415.5" width="48.5" height="27" rx="1.5" fill="#0c0c0c"/>
<text x="1146.6" y="427.6" font-size="12" fill="#fff">13.500</text>
<text x="1146.6" y="439.6" font-size="11.2" fill="#e6e6e6">1d 8h</text>
<!-- TV logo -->
<g fill="#111">
<path d="M9.4 766.9h6.6v8h-3.4v-4.6H9.4z"/>
<circle cx="18.3" cy="768.6" r="1.75"/>
<path d="M21.3 766.9h4.5l-3.5 8h-4.4z"/>
</g>
<text x="30.6" y="775.2" font-size="11.6" fill="#222" textLength="64" lengthAdjust="spacingAndGlyphs">TradingView</text>
</g>
</svg>
</body></html>
